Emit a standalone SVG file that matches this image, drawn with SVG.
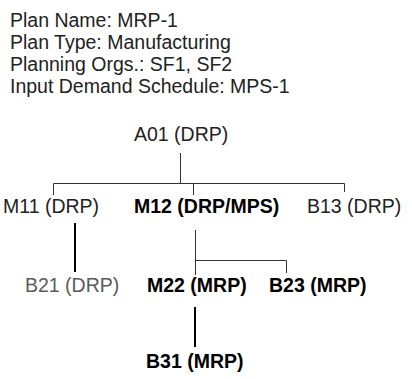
<svg xmlns="http://www.w3.org/2000/svg" width="412" height="379" viewBox="0 0 412 379">
<style>
text{font-family:"Liberation Sans",Arial,sans-serif;font-size:19.5px;fill:#222}
.b{font-weight:bold;fill:#000}
.g{fill:#5a5a5a}
.thin{stroke:#333;stroke-width:1;fill:none}
.thick{stroke:#000;stroke-width:2;fill:none}
</style>
<rect width="412" height="379" fill="#fff"/>
<g id="header">
<text x="10" y="27">Plan Name: MRP-1</text>
<text x="10" y="49">Plan Type: Manufacturing</text>
<text x="10" y="71">Planning Orgs.: SF1, SF2</text>
<text x="10" y="93">Input Demand Schedule: MPS-1</text>
</g>
<g id="connectors">
<path class="thin" d="M180.5 153V183.5M53.5 183.5H344.5M53.5 183.5V195M193.5 183.5V195M344.5 183.5V192"/>
<path class="thin" d="M195.5 230V275M195.5 260.5H286.5V273"/>
<path class="thick" d="M75 223V272M195 307V347"/>
</g>
<g id="A01"><text x="134" y="141">A01 (DRP)</text></g>
<g id="M11"><text x="3" y="213">M11 (DRP)</text></g>
<g id="M12"><text class="b" x="134" y="213">M12 (DRP/MPS)</text></g>
<g id="B13"><text x="307" y="213">B13 (DRP)</text></g>
<g id="B21"><text class="g" x="25" y="292">B21 (DRP)</text></g>
<g id="M22"><text class="b" x="147" y="292">M22 (MRP)</text></g>
<g id="B23"><text class="b" x="269" y="292">B23 (MRP)</text></g>
<g id="B31"><text class="b" x="146" y="368">B31 (MRP)</text></g>
</svg>
